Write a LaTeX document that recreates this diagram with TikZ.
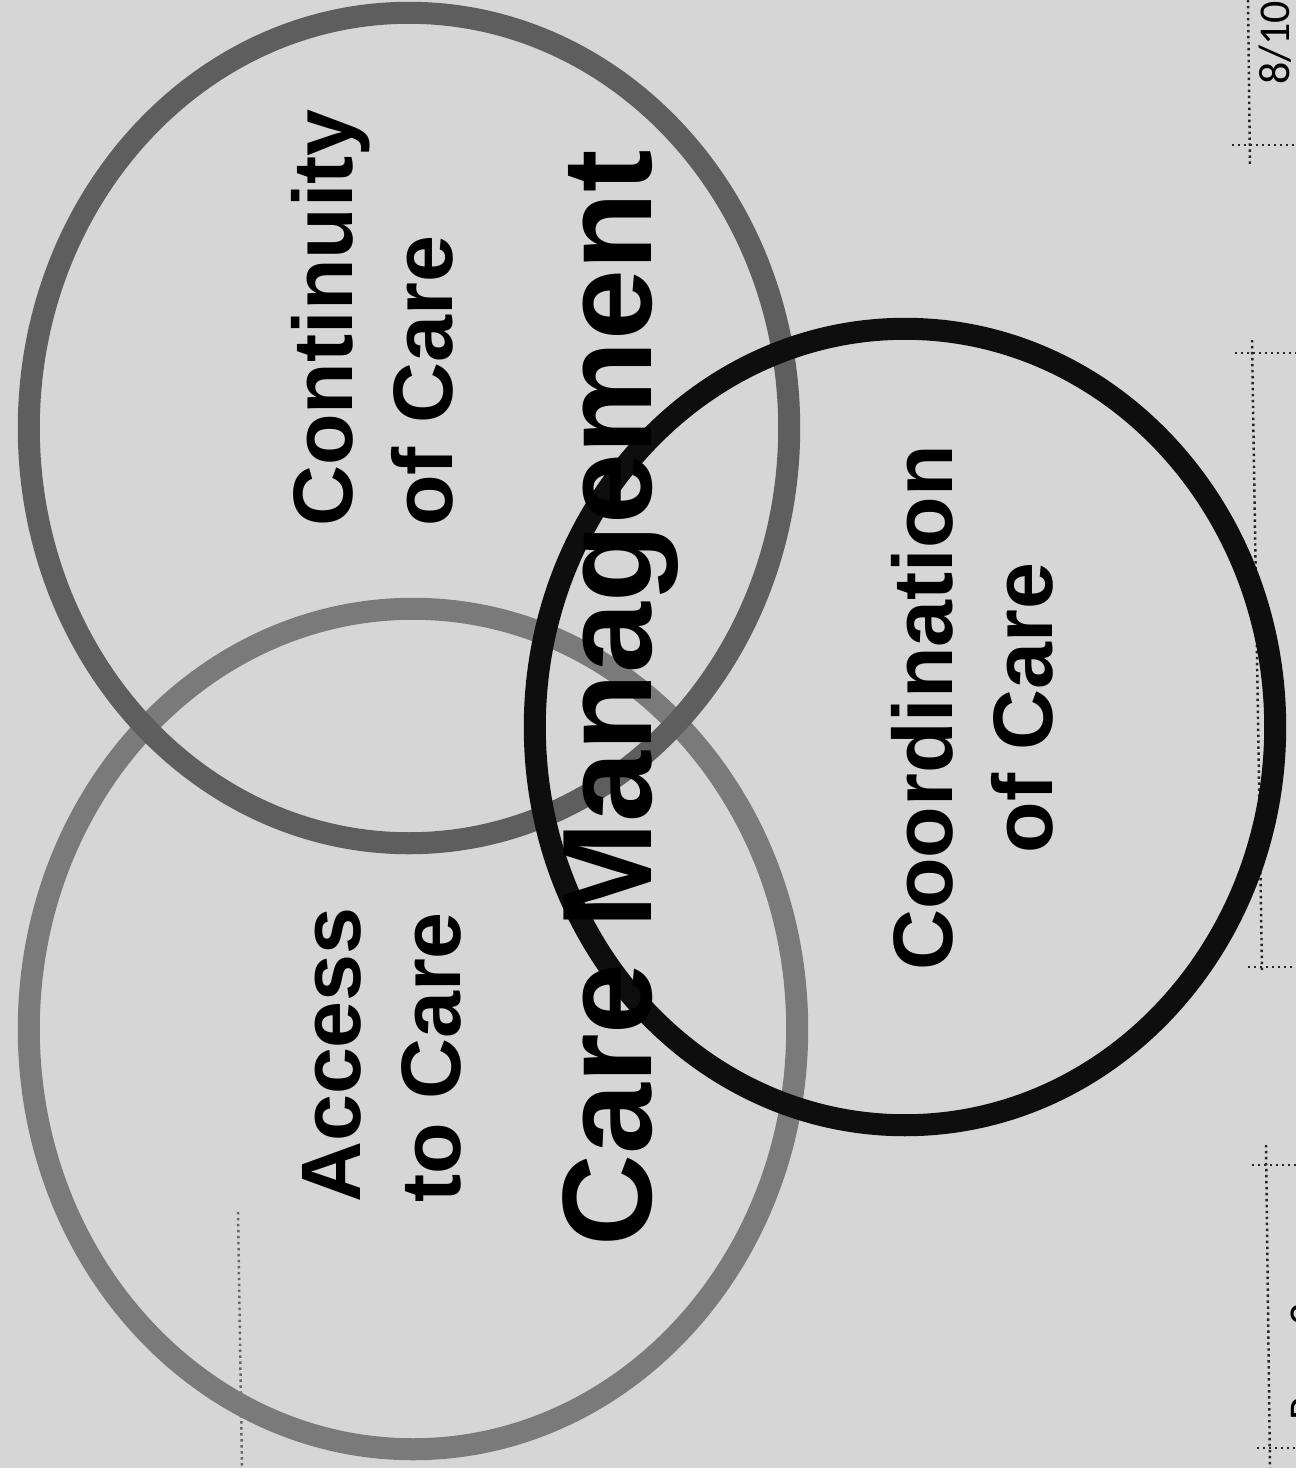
\documentclass[tikz,border=0pt]{standalone}
\usepackage{fontspec}
\setsansfont{Liberation Sans}
\newfontfamily\pgfont{Carlito}
\usetikzlibrary{positioning,shapes.geometric}
\definecolor{paper}{RGB}{214,214,214}
\definecolor{accessgray}{RGB}{122,122,122}
\definecolor{contgray}{RGB}{94,94,94}
\definecolor{coordblack}{RGB}{14,14,14}
\tikzset{
  ring/.style   ={ellipse, inner sep=0pt, outer sep=0pt, line width=0.22cm},
  lbl/.style    ={rotate=90, inner sep=0pt,
                  font=\fontsize{24}{28.5}\selectfont\sffamily\bfseries},
  biglbl/.style ={rotate=90, inner sep=0pt, anchor=base west,
                  font=\fontsize{36.2}{40}\selectfont\sffamily\bfseries},
  pgno/.style   ={rotate=90, inner sep=0pt,
                  font=\fontsize{12.5}{14}\selectfont\pgfont},
  gridln/.style ={densely dotted, line width=0.7pt, black!85},
}
\begin{document}
\begin{tikzpicture}[x=0.01cm, y=-0.01cm]
\useasboundingbox (0,0) rectangle (1296,1468);
\fill[paper] (0,0) rectangle (1296,1468);
% page grid
\draw[gridln] (1248,0) -- (1250,165);
\draw[gridln] (1232,145) -- (1296,145);
\draw[gridln] (1252,340) -- (1262,970);
\draw[gridln] (1235,353) -- (1296,353);
\draw[gridln] (1248,967) -- (1296,967);
\draw[gridln] (1266,1145) -- (1270,1468);
\draw[gridln] (1252,1165) -- (1296,1165);
\draw[gridln] (1257,1448) -- (1296,1448);
\draw[gridln, black!60] (238,1212) -- (242,1468);
% the three rings
\node[ring, draw=accessgray, minimum width=7.68cm, minimum height=8.40cm] (access) at (413,1029) {};
\node[ring, draw=contgray, minimum width=7.60cm, minimum height=8.30cm] (contin) at (409,428) {};
\node[ring, draw=coordblack, minimum width=7.40cm, minimum height=7.96cm] (coord) at (905,727) {};
% labels
\node[lbl, align=left] (accesstxt) at (382,1055) {Access\\to Care};
\node[lbl, align=left] (contintxt) at (372,318) {Continuity\\of Care};
\node[lbl, align=center] (coordtxt) at (972,708) {Coordination\\of Care};
\node[biglbl] (caremgmt) at (652,1247) {Care Management};
% page marks
\node[pgno] (pgfrac) at (1275,43) {8/10};
\node[pgno] (pgpage) at (1309,1362) {Page 2};
\end{tikzpicture}
\end{document}
